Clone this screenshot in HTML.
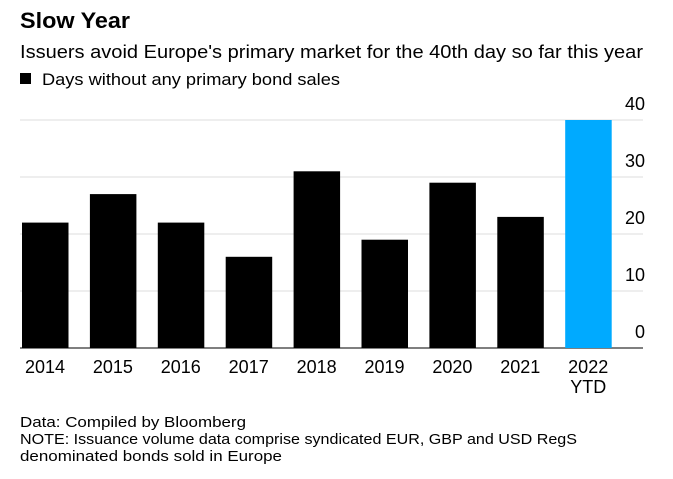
<!DOCTYPE html>
<html><head><meta charset="utf-8"><style>
body{margin:0;background:#fff;font-family:"Liberation Sans",Arial,sans-serif;}
svg{display:block}
</style></head><body>
<svg width="673" height="479" id="chart">
<text x="20" y="28" font-size="22" font-weight="bold" fill="#000" textLength="110" lengthAdjust="spacingAndGlyphs">Slow Year</text>
<text x="20" y="58" font-size="18" fill="#000" textLength="623" lengthAdjust="spacingAndGlyphs">Issuers avoid Europe's primary market for the 40th day so far this year</text>
<rect x="20" y="73" width="11" height="11" fill="#000"/>
<text x="42" y="85" font-size="17" fill="#000" textLength="298" lengthAdjust="spacingAndGlyphs">Days without any primary bond sales</text>
<g id="grid"></g><g id="bars"></g><g id="xl"></g>
<text x="20" y="427" font-size="15" fill="#000" textLength="226" lengthAdjust="spacingAndGlyphs">Data: Compiled by Bloomberg</text>
<text x="20" y="444" font-size="15" fill="#000" textLength="557" lengthAdjust="spacingAndGlyphs">NOTE: Issuance volume data comprise syndicated EUR, GBP and USD RegS</text>
<text x="20" y="461" font-size="15" fill="#000" textLength="262" lengthAdjust="spacingAndGlyphs">denominated bonds sold in Europe</text>
</svg>
<script>
const categories=["2014","2015","2016","2017","2018","2019","2020","2021","2022"];
const values=[22,27,22,16,31,19,29,23,40];
const ticks=[0,10,20,30,40];
const NS="http://www.w3.org/2000/svg";
const y0=348,yPer=5.7;
const y=v=>y0-v*yPer;
const x=i=>22+i*67.9;
function mk(t,a,p){const e=document.createElementNS(NS,t);for(const k in a)e.setAttribute(k,a[k]);p.appendChild(e);return e;}
const g=document.getElementById('grid'),b=document.getElementById('bars'),xl=document.getElementById('xl');
ticks.forEach(t=>{
 if(t>0){const l=mk('line',{x1:20,x2:643,y1:y(t),y2:y(t),stroke:'#dcdcdc','stroke-width':1},g);
 
 }
 const tx=mk('text',{x:645,y:y(t)-10,'font-size':18,'text-anchor':'end',fill:'#000'},g);
 tx.textContent=t;
 
 
});
values.forEach((v,i)=>{
 const r=mk('rect',{x:x(i),y:y(v),width:46.5,height:v*yPer,fill:i===8?'#00aaff':'#000'},b);
 
 
 const t=mk('text',{x:x(i)+23,y:373,'font-size':18,'text-anchor':'middle',fill:'#000'},xl);
 t.textContent=categories[i];
 
 
});
const ytd=mk('text',{x:x(8)+23,y:393,'font-size':18,'text-anchor':'middle',fill:'#000'},xl);
ytd.textContent='YTD';


const ax=mk('line',{x1:20,x2:643,y1:y0,y2:y0,stroke:'#555','stroke-width':1.5},g);


</script>
</body></html>
